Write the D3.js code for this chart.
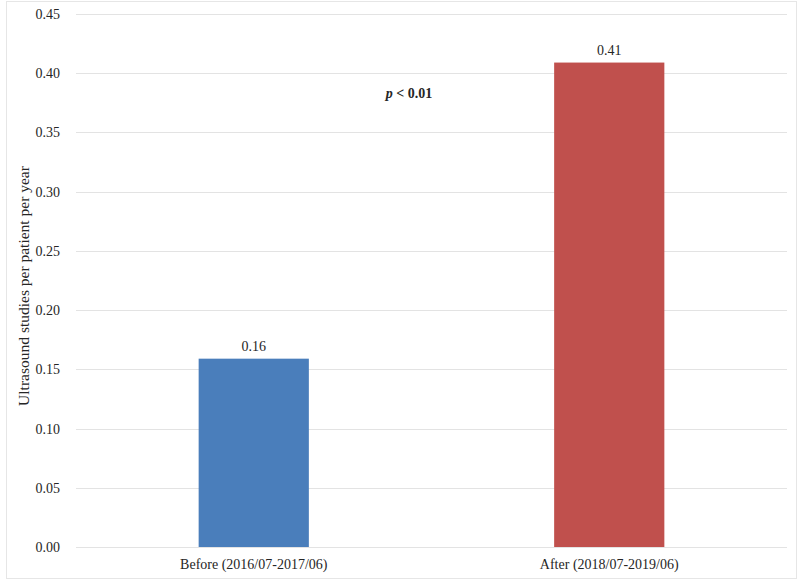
<!DOCTYPE html>
<html>
<head>
<meta charset="utf-8">
<script src="https://cdn.jsdelivr.net/npm/d3@7"></script>
<style>
body { margin: 0; background: #fff; }
text { font-family: "Liberation Serif", "Times New Roman", serif; fill: #262626; }
</style>
</head>
<body>
<script>
var categories = ['Before (2016/07-2017/06)', 'After (2018/07-2019/06)']
var values = [0.159, 0.409]
var colors = ['#4a7ebb', '#c0504d']
var yTicks = [0, 0.05, 0.1, 0.15, 0.2, 0.25, 0.3, 0.35, 0.4, 0.45]

var width = 800, height = 581
var margin = {top: 14, right: 13, bottom: 34, left: 76}

var svg = d3.select('body').append('svg')
	.attr('width', width)
	.attr('height', height)

// chart border
svg.append('rect')
	.attr('x', 6.5).attr('y', 1.5)
	.attr('width', 790).attr('height', 577)
	.attr('fill', 'none')
	.attr('stroke', '#e6e6e6')

var x = d3.scaleBand()
	.domain(categories)
	.range([margin.left, width - margin.right])
	.paddingInner(0.69)
	.paddingOuter(0.345)

var y = d3.scaleLinear()
	.domain([0, 0.45])
	.range([height - margin.bottom, margin.top])

// grid
svg.append('g')
	.selectAll('line')
	.data(yTicks)
	.join('line')
	.attr('x1', margin.left)
	.attr('x2', width - margin.right)
	.attr('y1', d => Math.round(y(d)) + 0.5)
	.attr('y2', d => Math.round(y(d)) + 0.5)
	.attr('stroke', '#e3e3e3')
	.attr('stroke-width', 1.2)

// y axis labels
var yAxis = svg.append('g')
	.attr('transform', 'translate(' + margin.left + ',0)')
	.call(d3.axisLeft(y).tickValues(yTicks).tickFormat(d3.format('.2f')).tickSize(0).tickPadding(16))
yAxis.select('.domain').remove()
yAxis.selectAll('text')
	.style('font-size', '14px')
	.style('font-family', '"Liberation Serif", serif')
	.attr('fill', '#262626')

// bars
svg.append('g')
	.selectAll('rect')
	.data(values)
	.join('rect')
	.attr('x', (d, i) => x(categories[i]))
	.attr('y', d => y(d))
	.attr('width', x.bandwidth())
	.attr('height', d => y(0) - y(d))
	.attr('fill', (d, i) => colors[i])

// value labels
svg.append('g')
	.selectAll('text')
	.data(values)
	.join('text')
	.attr('x', (d, i) => x(categories[i]) + x.bandwidth() / 2)
	.attr('y', d => y(d) - 8)
	.attr('text-anchor', 'middle')
	.style('font-size', '14px')
	.text(d => d3.format('.2f')(d))

// x axis labels
var xAxis = svg.append('g')
	.attr('transform', 'translate(0,' + (height - margin.bottom) + ')')
	.call(d3.axisBottom(x).tickSize(0).tickPadding(12))
xAxis.select('.domain').remove()
xAxis.selectAll('text')
	.style('font-size', '14px')
	.style('font-family', '"Liberation Serif", serif')
	.attr('fill', '#262626')

// y title
svg.append('text')
	.attr('transform', 'translate(29,286) rotate(-90)')
	.attr('text-anchor', 'middle')
	.style('font-size', '15.5px')
	.text('Ultrasound studies per patient per year')

// p value
var p = svg.append('text')
	.attr('x', 409)
	.attr('y', 98)
	.attr('text-anchor', 'middle')
	.style('font-size', '14px')
	.style('font-weight', 'bold')
p.append('tspan').style('font-style', 'italic').text('p')
p.append('tspan').text(' < 0.01')
</script>
</body>
</html>
